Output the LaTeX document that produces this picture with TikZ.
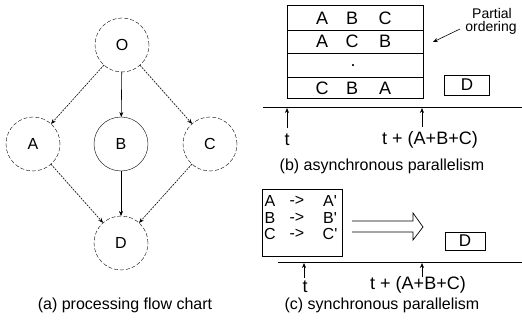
\documentclass[tikz,border=0pt]{standalone}
\usepackage{fontspec}
\setmainfont{Liberation Sans}
\usetikzlibrary{arrows.meta}
\begin{document}
\begin{tikzpicture}[x=1pt,y=-1pt,
  every node/.style={inner sep=0pt,outer sep=0pt},
  state/.style={circle,draw,minimum size=54pt,font=\fontsize{16}{18}\selectfont},
  dstate/.style={state,dashed,dash pattern=on 4pt off 2pt},
  flow/.style={-{Stealth[length=5pt,width=4pt]},line width=0.6pt},
  dflow/.style={flow,dash pattern=on 2pt off 1pt},
  cell/.style={font=\fontsize{18}{20}\selectfont},
  ccell/.style={font=\fontsize{16}{17}\selectfont},
  rowbox/.style={draw,line width=0.7pt,minimum width=136pt},
  dbox/.style={draw,line width=0.7pt,font=\fontsize{17}{19}\selectfont},
  lab/.style={font=\fontsize{18}{20}\selectfont},
  captxt/.style={font=\fontsize{16}{18}\selectfont},
  note/.style={font=\fontsize{14}{15}\selectfont},
  axis/.style={line width=0.8pt},
  tick/.style={-{Stealth[length=5pt,width=4pt]},line width=0.6pt}]
\useasboundingbox (0,0) rectangle (522,323);
% (a)
\node[dstate] (O) at (122,45) {O};
\node[dstate] (A) at (33,144) {A};
\node[state]  (B) at (121,144) {B};
\node[dstate] (C) at (210,144) {C};
\node[dstate] (D) at (121,243) {D};
\draw[dflow] (O) -- (A);
\draw[flow] (O) -- (B);
\draw[dflow] (O) -- (C);
\draw[dflow] (A) -- (D);
\draw[flow] (B) -- (D);
\draw[dflow] (C) -- (D);
\node[captxt] (capa) at (125,305) {(a) processing flow chart};
% (b)
\node[rowbox,minimum height=25pt] (r1) at (355,17.5) {};
\node[rowbox,minimum height=23pt] (r2) at (355,41.5) {};
\node[rowbox,minimum height=24pt] (r3) at (355,65) {};
\node[rowbox,minimum height=21pt] (r4) at (355,87.5) {};
\node[cell] (r1a) at (322,18) {A};
\node[cell] (r1b) at (352,18) {B};
\node[cell] (r1c) at (385,18) {C};
\node[cell] (r2a) at (322,41) {A};
\node[cell] (r2b) at (352,41) {C};
\node[cell] (r2c) at (385,41) {B};
\node[cell] (r3) at (353,66) {.};
\node[cell] (r4a) at (322,88) {C};
\node[cell] (r4b) at (352,88) {B};
\node[cell] (r4c) at (385,88) {A};
\node[note] (po1) at (492,13.5) {Partial};
\node[note] (po2) at (491,27.5) {ordering};
\coordinate (pa1) at (460,29);
\coordinate (pa2) at (433,42);
\draw[tick] (pa1) -- (pa2);
\node[dbox,minimum width=45pt,minimum height=20pt] (Db) at (467,85) {D};
\coordinate (b0) at (263,107);
\coordinate (b1) at (522,107);
\draw[axis] (b0) -- (b1);
\coordinate (bt1) at (287,128);
\coordinate (bt1h) at (287,108);
\coordinate (bt2) at (422,127);
\coordinate (bt2h) at (422,108);
\draw[tick] (bt1) -- (bt1h);
\draw[tick] (bt2) -- (bt2h);
\node[lab] (tb) at (287,140) {t};
\node[lab] (tb2) at (430,140) {t + (A+B+C)};
\node[captxt] (capb) at (382,166) {(b) asynchronous parallelism};
% (c)
\node[draw,line width=0.7pt,minimum width=80pt,minimum height=67pt] (sync) at (302,222.5) {};
\node[ccell] (ca1) at (270,201) {A};
\node[ccell] (ca2) at (297,201) {->};
\node[ccell] (ca3) at (330,201) {A\textquotesingle};
\node[ccell] (cb1) at (270,217.5) {B};
\node[ccell] (cb2) at (297,217.5) {->};
\node[ccell] (cb3) at (330,217.5) {B\textquotesingle};
\node[ccell] (cc1) at (270,234) {C};
\node[ccell] (cc2) at (297,234) {->};
\node[ccell] (cc3) at (330,234) {C\textquotesingle};
\draw[line width=0.7pt] (352,221) -- (413,221) -- (413,213) -- (423,227) -- (413,240) -- (413,232) -- (352,232);
\node[dbox,minimum width=40pt,minimum height=18pt] (Dc) at (465,241) {D};
\coordinate (c0) at (278,262);
\coordinate (c1) at (522,262);
\draw[axis] (c0) -- (c1);
\coordinate (ct1) at (304,278);
\coordinate (ct1h) at (304,263);
\coordinate (ct2) at (422,277);
\coordinate (ct2h) at (422,263);
\draw[tick] (ct1) -- (ct1h);
\draw[tick] (ct2) -- (ct2h);
\node[lab] (tc) at (305,287) {t};
\node[lab] (tc2) at (418,285) {t + (A+B+C)};
\node[captxt] (capc) at (382,305) {(c) synchronous parallelism};
\end{tikzpicture}
\end{document}
